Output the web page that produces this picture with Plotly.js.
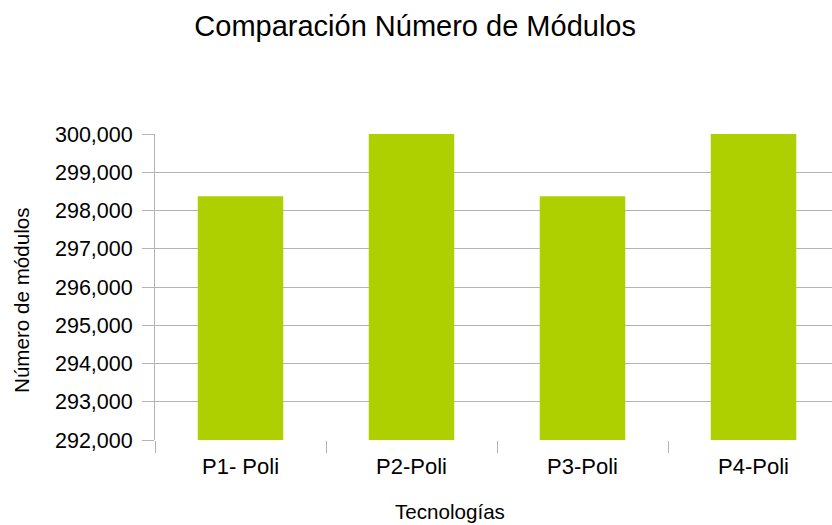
<!DOCTYPE html>
<html>
<head>
<meta charset="utf-8">
<script src="https://cdn.plot.ly/plotly-3.0.1.min.js"></script>
<style>html,body{margin:0;padding:0;background:#fff;}#chart{width:832px;height:525px;}</style>
</head>
<body>
<div id="chart"></div>
<script>
const categories = ["P1- Poli", "P2-Poli", "P3-Poli", "P4-Poli"];
const modulos = [298370, 300000, 298370, 300000];
const yTicks = [292000, 293000, 294000, 295000, 296000, 297000, 298000, 299000, 300000];

const fontFam = "Liberation Sans, Arial, sans-serif";
const data = [{
  type: "bar",
  x: categories,
  y: modulos,
  marker: {color: "#aecf00", line: {width: 0}},
  hoverinfo: "x+y"
}];

const layout = {
  width: 832, height: 525,
  margin: {l: 155, r: 0, t: 134, b: 85, pad: 0},
  paper_bgcolor: "#fff", plot_bgcolor: "#fff",
  font: {family: fontFam, size: 21, color: "#000"},
  showlegend: false,
  bargap: 0.5,
  title: {text: "Comparación Número de Módulos", font: {family: fontFam, size: 29, color: "#000"},
          x: 0.499, xref: "container", xanchor: "center", y: 0.9505, yref: "container", yanchor: "middle"},
  xaxis: {
    type: "category",
    range: [-0.5, 3.459],
    tickson: "boundaries",
    ticks: "outside", ticklen: 12, tickcolor: "#b3b3b3", tickwidth: 1,
    ticklabelstandoff: 11,
    showline: false,
    showgrid: false,
    tickfont: {family: fontFam, size: 22, color: "#000"},
    fixedrange: true
  },
  yaxis: {
    range: [292000, 300000],
    tickvals: yTicks,
    tickformat: ",d",
    ticks: "outside", ticklen: 12, tickcolor: "#b3b3b3", tickwidth: 1,
    ticklabelstandoff: 5,
    showline: true, linecolor: "#b3b3b3", linewidth: 1,
    showgrid: true, gridcolor: "#b3b3b3", gridwidth: 1,
    zeroline: false,
    tickfont: {family: fontFam, size: 21.5, color: "#000"},
    fixedrange: true
  },
  annotations: [{
    text: "Tecnologías", xref: "paper", yref: "paper",
    x: 0.4357, y: -0.235, xanchor: "center", yanchor: "middle",
    showarrow: false, font: {family: fontFam, size: 20.6, color: "#000"}
  }, {
    text: "Número de módulos", xref: "paper", yref: "paper",
    x: -0.198, y: 0.4575, xanchor: "center", yanchor: "middle", textangle: -90,
    showarrow: false, font: {family: fontFam, size: 20.6, color: "#000"}
  }]
};

Plotly.newPlot("chart", data, layout, {displayModeBar: false, staticPlot: true});
</script>
</body>
</html>
